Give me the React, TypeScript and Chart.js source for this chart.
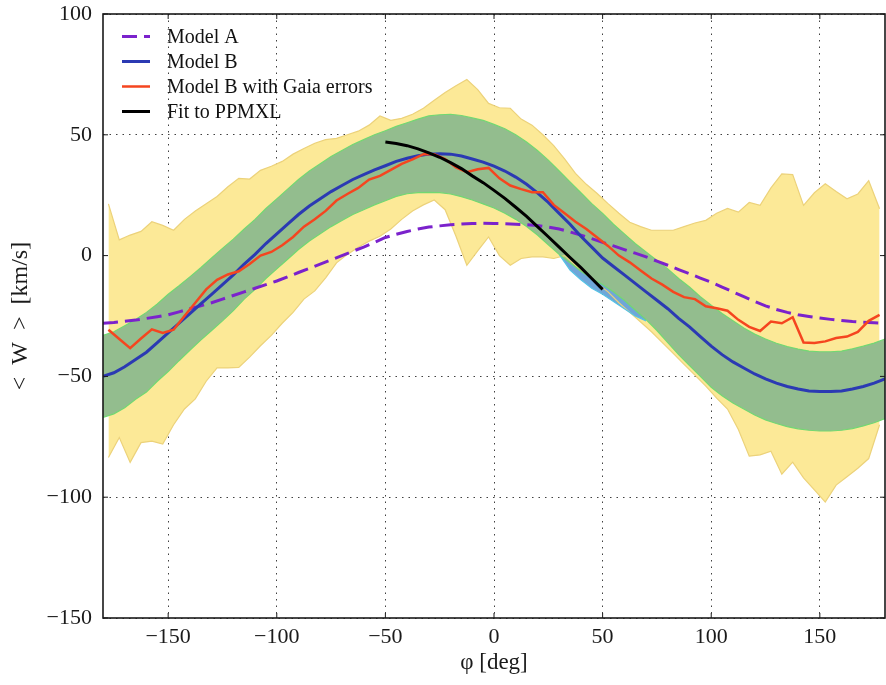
import React, { useEffect, useRef } from 'react';
import { Chart, registerables } from 'chart.js';

Chart.register(...registerables);

// ---- axis ticks ----
const X_TICKS = [-150, -100, -50, 0, 50, 100, 150];
const Y_TICKS = [-150, -100, -50, 0, 50, 100];

// ---- model curves (phi in degrees) ----
const PHI = [-180, -175, -170, -165, -160, -155, -150, -145, -140, -135, -130, -125, -120, -115, -110, -105, -100, -95, -90, -85, -80, -75, -70, -65, -60, -55, -50, -45, -40, -35, -30, -25, -20, -15, -10, -5, 0, 5, 10, 15, 20, 25, 30, 35, 40, 45, 50, 55, 60, 65, 70, 75, 80, 85, 90, 95, 100, 105, 110, 115, 120, 125, 130, 135, 140, 145, 150, 155, 160, 165, 170, 175, 180];

const MODEL_A = [-28, -27.7, -27.2, -26.7, -26, -25.3, -24.5, -23.3, -22, -20.8, -19.5, -18, -16.5, -15, -13.5, -12, -10.5, -8.8, -7, -5.3, -3.5, -1.8, 0, 1.8, 3.5, 5.5, 7.5, 8.8, 10, 11, 11.8, 12.3, 12.8, 13.1, 13.3, 13.4, 13.3, 13.2, 13, 12.8, 12.5, 11.8, 11, 9.8, 8.5, 7, 5.5, 4, 2.5, 1, -0.5, -2.3, -4, -5.8, -7.5, -9.3, -11, -13, -15, -17, -19, -20.8, -22.3, -23.5, -24.5, -25.2, -25.8, -26.4, -26.9, -27.3, -27.6, -27.8, -28];

const MODEL_B = [-50, -48.5, -46, -43, -40, -36, -32, -28, -24, -20, -16, -12, -8, -3.5, 0.5, 5, 9, 13, 17, 20.5, 23.5, 26.5, 29, 31.5, 33.5, 35.5, 37.2, 39, 40.3, 41.3, 42, 42.2, 42, 41.2, 40, 38.7, 37, 35, 32.5, 29.5, 26, 22, 17.5, 13, 8, 3.5, -1, -4.5, -8, -11.5, -15, -18.5, -22, -26, -29.5, -33.5, -37.5, -41, -44, -46.5, -49, -51, -52.8, -54.2, -55.2, -56, -56.3, -56.3, -56, -55.2, -54.2, -52.8, -51];

const MODEL_B_UPPER = [-33, -31.5, -29, -26.5, -23.5, -20, -16, -12.5, -8.8, -5, -1, 3, 6.8, 11, 15, 19.5, 23.5, 27.5, 31.5, 35, 38, 41, 43.5, 46, 48, 50, 51.7, 53.5, 55, 56.5, 57.8, 58.3, 58.5, 58, 57, 56, 54.3, 52.5, 50, 47, 43.5, 39.5, 35, 30.5, 26, 21.5, 17.5, 13, 9, 5, 1.5, -2, -5.5, -9.5, -13, -17, -20.5, -24, -27, -30, -32.5, -34.5, -36.3, -37.7, -38.7, -39.5, -39.8, -39.8, -39.5, -38.6, -37.5, -36.2, -34.5];

const MODEL_B_LOWER = [-67, -65.5, -63, -59.5, -56.5, -52, -48, -43.5, -39.2, -35, -31, -27, -22.8, -18, -14, -9.5, -5.5, -1.5, 2.5, 6, 9, 12, 14.5, 17, 19, 21, 22.7, 24.5, 25.6, 26.1, 26.2, 26.1, 25.5, 24.4, 23, 21.4, 19.7, 17.5, 15, 12, 8.5, 4.5, 0.5, -3, -6.5, -9.5, -12, -15, -18.5, -22.5, -26.5, -31, -36, -41, -45.5, -50, -54.5, -58, -61, -63.5, -66, -68, -69.5, -70.8, -71.7, -72.3, -72.6, -72.6, -72.3, -71.6, -70.5, -69.2, -67.5];

// ---- binned simulation (bin centres) ----
const PHI_BINS = [-177.5, -172.5, -167.5, -162.5, -157.5, -152.5, -147.5, -142.5, -137.5, -132.5, -127.5, -122.5, -117.5, -112.5, -107.5, -102.5, -97.5, -92.5, -87.5, -82.5, -77.5, -72.5, -67.5, -62.5, -57.5, -52.5, -47.5, -42.5, -37.5, -32.5, -27.5, -22.5, -17.5, -12.5, -7.5, -2.5, 2.5, 7.5, 12.5, 17.5, 22.5, 27.5, 32.5, 37.5, 42.5, 47.5, 52.5, 57.5, 62.5, 67.5, 72.5, 77.5, 82.5, 87.5, 92.5, 97.5, 102.5, 107.5, 112.5, 117.5, 122.5, 127.5, 132.5, 137.5, 142.5, 147.5, 152.5, 157.5, 162.5, 167.5, 172.5, 177.5];

const GAIA_MEAN = [-30.7, -34.5, -38.3, -34.3, -30.5, -32, -30.7, -25, -19.5, -14, -10, -7.8, -6.5, -3.5, 0, 1.5, 4.3, 7.7, 12, 15, 18.5, 22.8, 25.5, 28, 31.5, 33, 35.5, 38, 39.8, 42, 42, 40, 36.5, 34.5, 35.7, 36.3, 32, 29, 27.5, 26.2, 26.2, 21, 17.5, 14, 11, 7.5, 4, 0, -2.8, -6.2, -9.5, -12, -15, -17.2, -18, -21, -21.8, -22.8, -26.6, -29.5, -31.2, -27.3, -28, -25.5, -36, -36.2, -35.5, -34.1, -33.5, -31.6, -27, -24.5];

const GAIA_UPPER = [21.4, 6.5, 8.5, 10, 14, 12.5, 10.5, 15, 18.5, 21.5, 24.5, 28.5, 32, 31.7, 35.3, 37, 39, 42, 44.3, 46.5, 48, 48.5, 50, 51.5, 54, 57.8, 56, 56.8, 58.5, 61, 64.3, 67.5, 70.3, 72.9, 68.7, 63, 61.2, 61, 56.5, 54, 50, 45.5, 40, 34, 29.5, 25.7, 21.5, 17.5, 13.8, 12, 10.5, 10.5, 10.5, 12, 13.5, 14.6, 17.5, 19.5, 18, 22, 20.8, 28, 33.8, 33.5, 20.8, 26, 29.7, 26.5, 23.5, 25.5, 31, 19.4];

const GAIA_LOWER = [-83.6, -75.3, -85.6, -77.4, -76.8, -78, -70, -63.5, -59.3, -52, -46.5, -46.5, -46.3, -42, -37.3, -33, -28, -23.5, -18, -14.6, -9.2, -3, 0.5, 3.5, 6, 8, 11, 15, 18.5, 21, 23, 19, 8, -4, 2, 7.7, 0, -4, -1.2, -0.5, -0.5, -1.2, 0, -4, -7.5, -11.5, -15, -19.5, -23.5, -27.5, -31.5, -36, -40.5, -45, -49.5, -54, -59, -63.5, -72, -83, -82.5, -81, -90.5, -85.5, -92, -97, -102, -95, -91.5, -88, -84, -70];

// ---- PPMXL fit ----
const PHI_FIT = [-50, -45, -40, -35, -30, -25, -20, -15, -10, -5, 0, 5, 10, 15, 20, 25, 30, 35, 40, 45, 50];
const PPMXL_FIT = [47, 46.4, 45.5, 44.2, 42.5, 40.7, 38.5, 36, 33, 30.2, 27, 23.7, 20, 16.2, 12, 7.8, 3.5, -0.8, -5, -9.5, -14];

const PHI_FIT_BAND = [30, 35, 40, 45, 50, 55, 60, 65, 70];
const PPMXL_UPPER = [10, 5, 0, -5, -10, -13, -17, -21, -25];
const PPMXL_LOWER = [0.5, -6, -10, -13.5, -16, -19, -22, -25, -27];

const LEGEND_LABELS = ['Model A', 'Model B', 'Model B with Gaia errors', 'Fit to PPMXL'];

const SERIF = '"Liberation Serif", "DejaVu Serif", serif';

const pts = (xs: number[], ys: number[]) => xs.map((x, i) => ({ x, y: ys[i] }));
const fmt = (v: number) => String(v).replace('-', '\u2212');

const framePlugin = {
  id: 'frameTicks',
  afterDraw(chart: any) {
    const { ctx, chartArea: a, scales } = chart;
    ctx.save();
    ctx.strokeStyle = '#1a1a1a';
    ctx.lineWidth = 1;
    X_TICKS.forEach((v) => {
      const x = scales.x.getPixelForValue(v);
      ctx.beginPath();
      ctx.moveTo(x, a.bottom); ctx.lineTo(x, a.bottom - 5);
      ctx.moveTo(x, a.top); ctx.lineTo(x, a.top + 5);
      ctx.stroke();
    });
    Y_TICKS.forEach((v) => {
      const y = scales.y.getPixelForValue(v);
      ctx.beginPath();
      ctx.moveTo(a.left, y); ctx.lineTo(a.left + 5, y);
      ctx.moveTo(a.right, y); ctx.lineTo(a.right - 5, y);
      ctx.stroke();
    });
    ctx.lineWidth = 1.6;
    ctx.strokeRect(a.left, a.top, a.right - a.left, a.bottom - a.top);
    ctx.restore();
  },
};

const legendPlugin = {
  id: 'insideLegend',
  afterDraw(chart: any) {
    const { ctx, chartArea: a } = chart;
    ctx.save();
    ctx.font = `20px ${SERIF}`;
    ctx.textBaseline = 'middle';
    ctx.textAlign = 'left';
    LEGEND_LABELS.forEach((label, i) => {
      const ds = chart.data.datasets.find((d: any) => d.label === label);
      const y = a.top + 22.5 + i * 25;
      ctx.beginPath();
      ctx.strokeStyle = ds.borderColor;
      ctx.lineWidth = ds.borderWidth;
      ctx.setLineDash(ds.borderDash || []);
      ctx.moveTo(a.left + 19, y);
      ctx.lineTo(a.left + 47, y);
      ctx.stroke();
      ctx.setLineDash([]);
      ctx.fillStyle = '#111';
      ctx.fillText(label, a.left + 64, y + 1);
    });
    ctx.restore();
  },
};

const noPad = (s: any) => {
  s.paddingTop = 0;
  s.paddingBottom = 0;
  s.paddingLeft = 0;
  s.paddingRight = 0;
};

export default function App() {
  const ref = useRef<HTMLCanvasElement | null>(null);

  useEffect(() => {
    if (!ref.current) return;
    const line = { pointRadius: 0, pointHoverRadius: 0, tension: 0, fill: false };
    const chart = new Chart(ref.current, {
      type: 'line',
      data: {
        datasets: [
          { ...line, label: 'Fit to PPMXL', data: pts(PHI_FIT, PPMXL_FIT), borderColor: '#000000', borderWidth: 3 },
          { ...line, label: 'Model B with Gaia errors', data: pts(PHI_BINS, GAIA_MEAN), borderColor: '#f5451f', borderWidth: 2.5 },
          { ...line, label: 'Model B', data: pts(PHI, MODEL_B), borderColor: '#2b3ab3', borderWidth: 3 },
          { ...line, label: 'Model A', data: pts(PHI, MODEL_A), borderColor: '#7b22cc', borderWidth: 3, borderDash: [15, 7] },
          { ...line, label: 'Model B band', data: pts(PHI, MODEL_B_UPPER), borderColor: '#72d872', borderWidth: 1.2, backgroundColor: '#93bd8e', fill: '+1' },
          { ...line, label: 'Model B band low', data: pts(PHI, MODEL_B_LOWER), borderColor: '#72d872', borderWidth: 1.2 },
          { ...line, label: 'PPMXL band', data: pts(PHI_FIT_BAND, PPMXL_UPPER), borderColor: 'rgba(0,0,0,0)', borderWidth: 0, backgroundColor: '#6fa6d8', fill: '+1' },
          { ...line, label: 'PPMXL band low', data: pts(PHI_FIT_BAND, PPMXL_LOWER), borderColor: '#55c3e6', borderWidth: 1.2 },
          { ...line, label: 'Gaia spread', data: pts(PHI_BINS, GAIA_UPPER), borderColor: '#ecd27a', borderWidth: 1.2, backgroundColor: '#fce997', fill: '+1' },
          { ...line, label: 'Gaia spread low', data: pts(PHI_BINS, GAIA_LOWER), borderColor: '#ecd27a', borderWidth: 1.2 },
        ],
      },
      options: {
        animation: false,
        responsive: false,
        devicePixelRatio: 1,
        events: [],
        layout: { autoPadding: false, padding: { left: 0, right: 1, top: 14, bottom: 0 } },
        plugins: {
          legend: { display: false },
          tooltip: { enabled: false },
          filler: { drawTime: 'beforeDatasetsDraw' },
        },
        scales: {
          x: {
            type: 'linear',
            min: -180,
            max: 180,
            z: 1,
            afterBuildTicks: (s: any) => { s.ticks = X_TICKS.map((value) => ({ value })); },
            afterFit: (s: any) => { s.height = 67; noPad(s); },
            ticks: {
              callback: (v: any) => fmt(v),
              font: { family: SERIF, size: 22 },
              color: '#1a1a1a',
              padding: 6,
              maxRotation: 0,
            },
            grid: { color: 'rgba(0,0,0,0.75)', lineWidth: 1, tickLength: 0 },
            border: { display: false, dash: [1.5, 5] },
            title: {
              display: true,
              text: '\u03c6 [deg]',
              font: { family: SERIF, size: 23 },
              color: '#1a1a1a',
              padding: { top: 0, bottom: 8 },
            },
          },
          y: {
            type: 'linear',
            min: -150,
            max: 100,
            z: 1,
            afterBuildTicks: (s: any) => { s.ticks = Y_TICKS.map((value) => ({ value })); },
            afterFit: (s: any) => { s.width = 103; noPad(s); },
            ticks: {
              callback: (v: any) => fmt(v),
              font: { family: SERIF, size: 22 },
              color: '#1a1a1a',
              padding: 11,
            },
            grid: { color: 'rgba(0,0,0,0.75)', lineWidth: 1, tickLength: 0 },
            border: { display: false, dash: [1.5, 5] },
            title: {
              display: true,
              text: '<  W  >  [km/s]',
              font: { family: SERIF, size: 24 },
              color: '#1a1a1a',
              padding: { top: 6, bottom: 0 },
            },
          },
        },
      },
      plugins: [framePlugin, legendPlugin],
    } as any);
    return () => chart.destroy();
  }, []);

  return (
    <canvas
      ref={ref}
      width={886}
      height={685}
      style={{ position: 'fixed', left: 0, top: 0, width: '886px', height: '685px', background: '#fff' }}
    />
  );
}
